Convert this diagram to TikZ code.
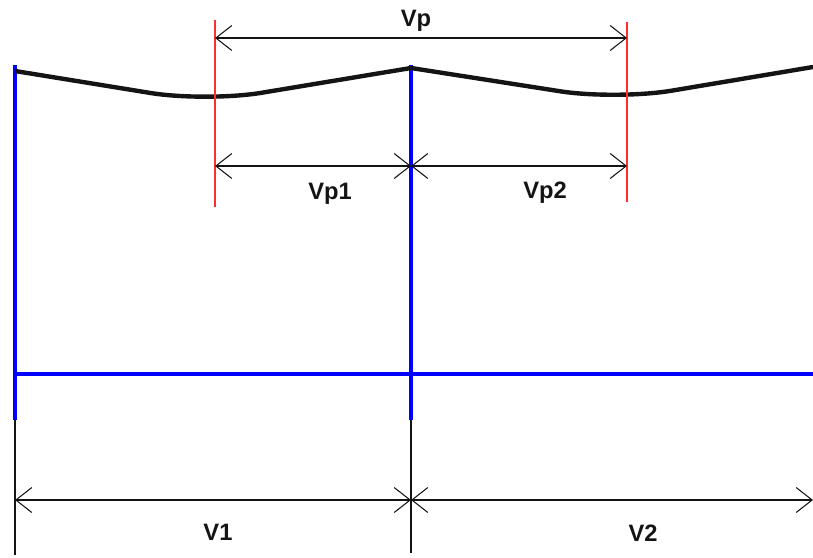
\documentclass[tikz,border=0pt]{standalone}
\usepackage{fontspec}
\setmainfont{Liberation Sans}
\usetikzlibrary{arrows.meta}
\definecolor{wire}{RGB}{0,0,255}
\definecolor{redln}{RGB}{255,45,45}
\definecolor{ink}{RGB}{20,20,20}

\begin{document}
\begin{tikzpicture}[x=0.02cm,y=-0.02cm,
    dim/.style={draw=ink,line width=0.6pt,{Straight Barb[length=3.2mm,width=5mm]}-{Straight Barb[length=3.2mm,width=5mm]}},
    post/.style={draw=wire,line width=1.8pt},
    cut/.style={draw=redln,line width=1.1pt},
    ext/.style={draw=ink,line width=0.6pt},
    lbl/.style={font=\fontsize{13.5}{15}\selectfont\bfseries,text=ink,inner sep=0pt,anchor=base}]
    \useasboundingbox (0,0) rectangle (813,557);
    \coordinate (aTop) at (15,65); \coordinate (aBot) at (15,420); \coordinate (aEnd) at (15,555);
    \coordinate (bTop) at (411,65); \coordinate (bBot) at (411,420); \coordinate (bEnd) at (411,553);
    \coordinate (railL) at (13,374); \coordinate (railR) at (813,374);
    \coordinate (cutA1) at (215,20); \coordinate (cutA2) at (215,207);
    \coordinate (cutB1) at (627,22); \coordinate (cutB2) at (627,202);
    \coordinate (vpL) at (215,38); \coordinate (vpR) at (627,38);
    \coordinate (vp1L) at (215,166); \coordinate (vpM) at (411,166); \coordinate (vp2R) at (627,166);
    \coordinate (v1L) at (15,500); \coordinate (vM) at (411,500); \coordinate (v2R) at (813,500);
    \draw[ext] (aBot)--(aEnd);
    \draw[ext] (bBot)--(bEnd);
    \draw[post] (aTop)--(aBot);
    \draw[post] (bTop)--(bBot);
    \draw[post] (railL)--(railR);
    \draw[ink,line width=2.5pt,rounded corners=32pt] (15,71)--(206,102)--(411,68);
    \draw[ink,line width=2.5pt,rounded corners=32pt] (411,68)--(616,100)--(813,67);
    \draw[cut] (cutA1)--(cutA2);
    \draw[cut] (cutB1)--(cutB2);
    \draw[dim] (vpL)--(vpR);
    \draw[dim] (vp1L)--(vpM);
    \draw[dim] (vpM)--(vp2R);
    \draw[dim] (v1L)--(vM);
    \draw[dim] (vM)--(v2R);
    \node[lbl] (vp) at (416,27) {Vp};
    \node[lbl] (vp1) at (330,199) {Vp1};
    \node[lbl] (vp2) at (545,198) {Vp2};
    \node[lbl] (v1) at (218,540) {V1};
    \node[lbl] (v2) at (643,541) {V2};
  \end{tikzpicture}
\end{document}
